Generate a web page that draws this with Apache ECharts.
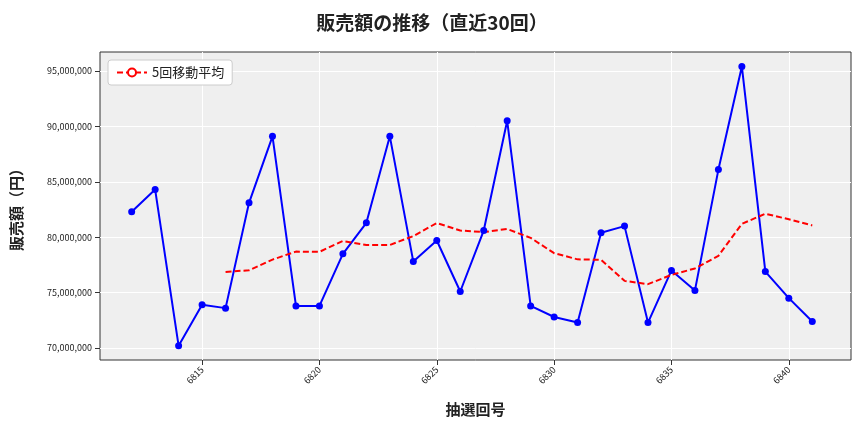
<!DOCTYPE html>
<html lang="ja">
<head>
<meta charset="UTF-8">
<title>販売額の推移</title>
<script src="https://cdn.jsdelivr.net/npm/echarts@6/dist/echarts.min.js"></script>
<style>body{margin:0}</style>
</head>
<body>
<div id="chart" style="width:864px;height:432px"></div>
<script>
const draws = [6812,6813,6814,6815,6816,6817,6818,6819,6820,6821,6822,6823,6824,6825,6826,6827,6828,6829,6830,6831,6832,6833,6834,6835,6836,6837,6838,6839,6840,6841]
const sales = [82.3,84.3,70.2,73.9,73.6,83.1,89.1,73.8,73.8,78.5,81.3,89.1,77.8,79.7,75.1,80.6,90.5,73.8,72.8,72.3,80.4,81.0,72.3,77.0,75.2,86.1,95.4,76.9,74.5,72.4]
const ma5 = [null,null,null,null,76.86,77.02,77.98,78.7,78.68,79.66,79.3,79.3,80.1,81.28,80.6,80.46,80.74,79.94,78.56,78.0,77.96,76.06,75.76,76.6,77.18,78.32,81.2,82.12,81.62,81.06]
const xTicks = [6815,6820,6825,6830,6835,6840]
const yTicks = [70e6,75e6,80e6,85e6,90e6,95e6]

const chart = echarts.init(document.getElementById('chart'))
const font = 'Noto Sans CJK JP'
chart.setOption({
  textStyle: {fontFamily: font},
  title: {text: '販売額の推移（直近30回）', left: 'center', top: 8,
    textStyle: {fontSize: 19, fontWeight: 'bold', color: '#222', fontFamily: font}},
  legend: {left: 108, top: 60, backgroundColor: '#fff', borderColor: '#ccc', borderWidth: 1,
    borderRadius: 3, padding: [6, 8], itemWidth: 30, itemHeight: 10,
    textStyle: {fontSize: 13, color: '#222'}, data: ['5回移動平均']},
  grid: {left: 100, right: 13, top: 52, bottom: 72, show: true, backgroundColor: '#efefef', borderColor: '#333', borderWidth: 1},
  xAxis: {type: 'value', min: 6810.65, max: 6842.65,
    name: '抽選回号', nameLocation: 'middle', nameGap: 42, nameTextStyle: {fontSize: 15, color: '#222', fontWeight: 'bold'},
    axisLine: {show: false},
    axisTick: {show: true, customValues: xTicks, lineStyle: {color: '#333'}},
    axisLabel: {customValues: xTicks, rotate: 45, fontSize: 9, color: '#222', margin: 8, formatter: v => String(v)},
    splitLine: {show: true, lineStyle: {color: '#fff', width: 1}}},
  yAxis: {type: 'value', min: 68.92e6, max: 96.71e6,
    name: '販売額（円）', nameLocation: 'middle', nameGap: 76, nameTextStyle: {fontSize: 15, color: '#222', fontWeight: 'bold'},
    axisLine: {show: false},
    axisTick: {show: true, customValues: yTicks, lineStyle: {color: '#333'}},
    axisLabel: {customValues: yTicks, fontSize: 9, color: '#222',
      formatter: v => Math.round(v).toLocaleString('en-US')},
    splitLine: {show: true, lineStyle: {color: '#fff', width: 1}}},
  series: [
    {name: '販売額', type: 'line', data: draws.map((d, i) => [d, sales[i] * 1e6]),
      symbol: 'circle', symbolSize: 7, itemStyle: {color: '#0000ff'}, lineStyle: {color: '#0000ff', width: 2}},
    {name: '5回移動平均', type: 'line', data: draws.map((d, i) => [d, ma5[i] == null ? null : ma5[i] * 1e6]),
      showSymbol: false, itemStyle: {color: '#ff0000'}, lineStyle: {color: '#ff0000', width: 2, type: [6, 3]}}
  ]
})
</script>
</body>
</html>
